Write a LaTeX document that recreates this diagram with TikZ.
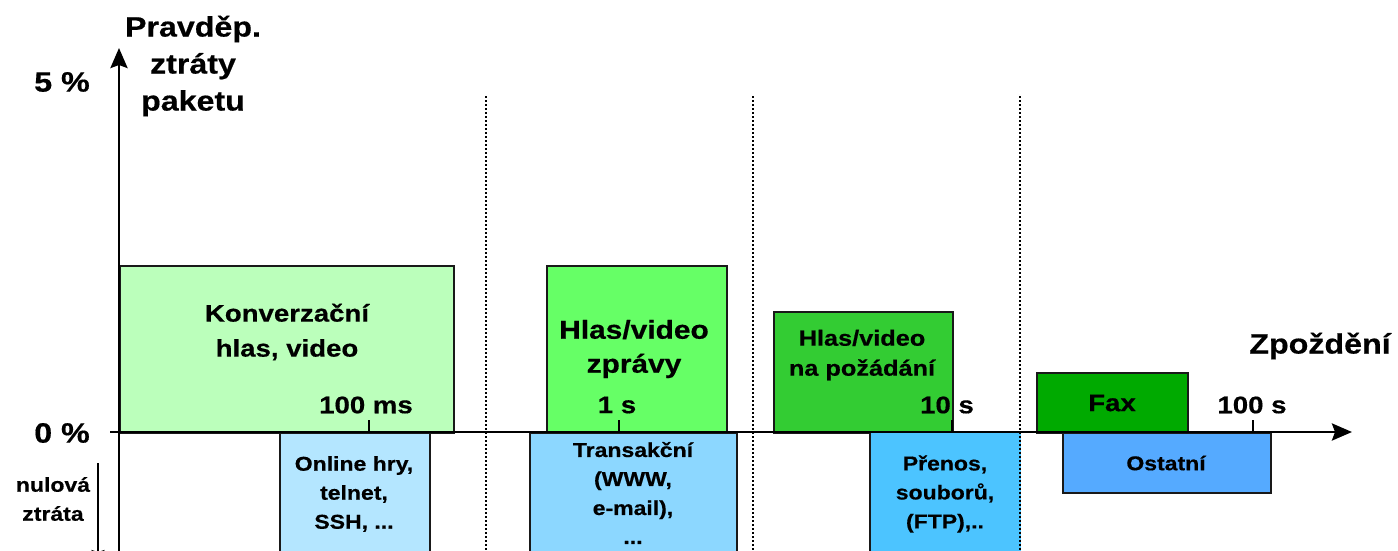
\documentclass[tikz,border=0pt]{standalone}
\usepackage{fontspec}
\setmainfont{Liberation Sans}[FakeStretch=1.15, BoldFeatures={FakeBold=0.5}]
\usetikzlibrary{arrows.meta}
\definecolor{cConv}{HTML}{BBFFBB}
\definecolor{cMsg}{HTML}{66FF66}
\definecolor{cDemand}{HTML}{33CC33}
\definecolor{cFax}{HTML}{00AA00}
\definecolor{cOnline}{HTML}{B4E6FF}
\definecolor{cTrans}{HTML}{8CD7FF}
\definecolor{cFile}{HTML}{4CC4FF}
\definecolor{cOther}{HTML}{55AAFF}
\tikzset{
  bar/.style={draw=black!90, line width=1.6pt, anchor=north west, inner sep=0pt},
  axisline/.style={line width=2.8pt, -{Stealth[length=20pt,width=17pt,inset=3pt]}},
  zeroarrow/.style={line width=1.6pt, -{Stealth[length=16pt,width=13pt,inset=2pt]}},
  sep/.style={line width=2pt, dash pattern=on 2pt off 2pt},
  tickmark/.style={line width=1.6pt},
  biglbl/.style={font=\fontsize{28}{37}\selectfont\bfseries, align=center, inner sep=0pt},
  ticklbl/.style={font=\fontsize{24}{28}\selectfont\bfseries, inner sep=0pt},
  lowlbl/.style={font=\fontsize{20}{29}\selectfont\bfseries, align=center, inner sep=0pt},
}
\begin{document}
\begin{tikzpicture}[x=1pt,y=-1pt]
\useasboundingbox (0,0) rectangle (1398,551);
\clip (0,0) rectangle (1398,551);

% loss-tolerant classes (above the delay axis)
\node[bar, fill=cConv,   minimum width=334pt, minimum height=167pt] (bConv)   at (119,265) {};
\node[bar, fill=cMsg,    minimum width=180pt, minimum height=167pt] (bMsg)    at (546,265) {};
\node[bar, fill=cDemand, minimum width=179pt, minimum height=121pt] (bDemand) at (773,311) {};
\node[bar, fill=cFax,    minimum width=151pt, minimum height=60pt]  (bFax)    at (1036,372) {};

% zero-loss classes (below the delay axis)
\node[bar, fill=cOnline, minimum width=150pt, minimum height=140pt] (bOnline) at (279,432) {};
\node[bar, fill=cTrans,  minimum width=207pt, minimum height=140pt] (bTrans)  at (529,432) {};
\node[bar, draw=none, fill=cFile, minimum width=150pt, minimum height=140pt] (bFile) at (870,432) {};
\draw[line width=1.6pt, draw=black!90] (bFile.south west) -- (bFile.north west) -- (bFile.north east);
\node[bar, fill=cOther,  minimum width=208pt, minimum height=60pt]  (bOther)  at (1062,432) {};

% region separators
\foreach \name/\x in {sA/486, sB/753, sC/1020}{
  \coordinate (\name top) at (\x,96);
  \coordinate (\name bot) at (\x,560);
  \draw[sep] (\name top) -- (\name bot);
}

% axes
\coordinate (O) at (119,432);
\coordinate (xstart) at (110,432);
\coordinate (xend) at (1352,432);
\coordinate (ytop) at (119,48);
\coordinate (ybot) at (119,560);
\draw[axisline] (ybot) -- (ytop);
\draw[axisline] (xstart) -- (xend);

% decade ticks
\foreach \name/\x in {t1/369, t2/619, t3/952, t4/1253}{
  \coordinate (\name) at (\x,432);
  \coordinate (\name up) at (\x,420);
  \draw[tickmark] (\name) -- (\name up);
}
\node[ticklbl] (l1) at (366,405) {100 ms};
\node[ticklbl] (l2) at (617,405) {1 s};
\node[ticklbl] (l3) at (947,405) {10 s};
\node[ticklbl] (l4) at (1252,405) {100 s};

% axis labels
\node[biglbl] (ylab) at (193,66) {Pravděp.\\ztráty\\paketu};
\node[biglbl] (xlab) at (1320,346) {Zpoždění};
\node[biglbl] (p5) at (62,82) {5 \%};
\node[biglbl] (p0) at (62,433) {0 \%};

% zero-loss marker
\coordinate (zA) at (98,463);
\coordinate (zB) at (98,566);
\draw[zeroarrow] (zA) -- (zB);
\node[lowlbl] (zlab) at (53,499) {nulová\\ztráta};

% class labels
\node[biglbl, font=\fontsize{24}{35}\selectfont\bfseries] (tConv) at (287,332) {Konverzační\\hlas, video};
\node[biglbl, font=\fontsize{26}{34}\selectfont\bfseries] (tMsg) at (634,349) {Hlas/video\\zprávy};
\node[biglbl, font=\fontsize{22}{30}\selectfont\bfseries] (tDemand) at (862,355) {Hlas/video\\na požádání};
\node[biglbl, font=\fontsize{24}{28}\selectfont\bfseries] (tFax) at (1112,403) {Fax};

\node[lowlbl] (tOnline) at (354,494) {Online hry,\\telnet,\\SSH, ...};
\node[lowlbl] (tTrans) at (633,493) {Transakční\\(WWW,\\e-mail),\\...};
\node[lowlbl] (tFile) at (945,494) {Přenos,\\souborů,\\(FTP),..};
\node[lowlbl] (tOther) at (1166,463) {Ostatní};
\end{tikzpicture}
\end{document}
